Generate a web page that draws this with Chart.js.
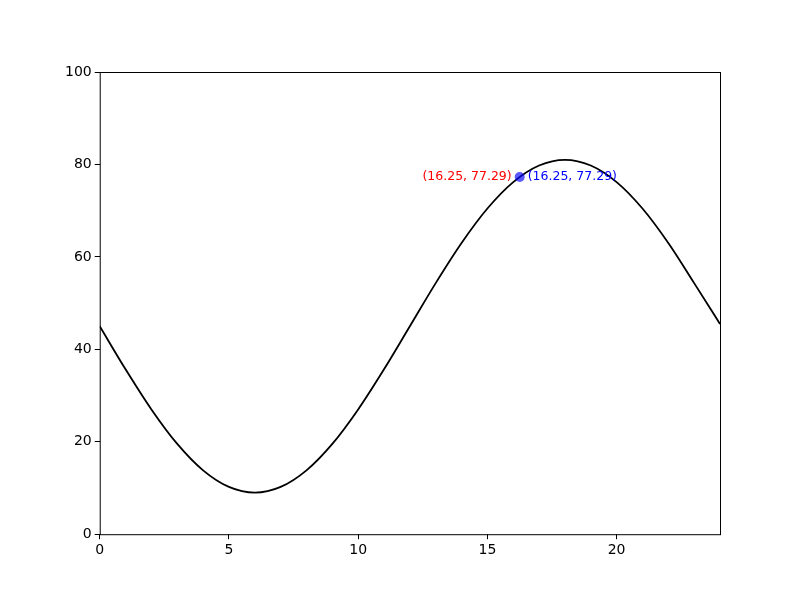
<!DOCTYPE html>
<html>
<head>
<meta charset="UTF-8" />
<title>Curve with annotated point</title>
<style>
  html, body { margin: 0; padding: 0; background: #ffffff; }
  #wrap { width: 800px; height: 600px; }
</style>
</head>
<body>
<div id="wrap"><canvas id="chart" width="800" height="600"></canvas></div>
<script src="https://cdn.jsdelivr.net/npm/chart.js"></script>
<script>
  // values
  const hours = [0, 1, 2, 3, 4, 5, 6, 7, 8, 9, 10, 11, 12, 13, 14, 15, 16, 17, 18, 19, 20, 21, 22, 23, 24];
  const values = [45, 35.68, 27, 19.54, 13.82, 10.23, 9, 10.23, 13.82, 19.54, 27, 35.68, 45,
                  54.32, 63, 70.46, 76.18, 79.77, 81, 79.77, 76.18, 70.46, 63, 54.32, 45.5];
  const markX = [16.25];
  const markY = [77.29];
  const xTicks = [0, 5, 10, 15, 20];
  const yTicks = [0, 20, 40, 60, 80, 100];

  const curve = hours.map((h, i) => ({ x: h, y: values[i] }));
  const marks = markX.map((v, i) => ({ x: v, y: markY[i] }));

  // text labels either side of the marked point
  const labelPlugin = {
    id: 'pointLabels',
    afterDatasetsDraw(chart) {
      const c = chart.ctx;
      const xs = chart.scales.x, ys = chart.scales.y;
      c.save();
      c.font = '12.5px "DejaVu Sans"';
      c.textBaseline = 'middle';
      marks.forEach(p => {
        const px = xs.getPixelForValue(p.x);
        const py = ys.getPixelForValue(p.y);
        const txt = '(' + p.x.toFixed(2) + ', ' + p.y.toFixed(2) + ')';
        c.fillStyle = 'red';
        c.textAlign = 'right';
        c.fillText(txt, px - 8, py);
        c.fillStyle = 'blue';
        c.textAlign = 'left';
        c.fillText(txt, px + 8, py);
      });
      c.restore();
    }
  };

  // frame around the plot area like the matplotlib axes
  const framePlugin = {
    id: 'frame',
    afterDraw(chart) {
      const a = chart.chartArea, c = chart.ctx;
      c.save();
      c.strokeStyle = '#000';
      c.lineWidth = 1;
      c.strokeRect(a.left + 0.5, a.top + 0.5, a.right - a.left, a.bottom - a.top);
      c.restore();
    }
  };

  new Chart(document.getElementById('chart').getContext('2d'), {
    type: 'scatter',
    data: {
      datasets: [
        {
          data: marks,
          backgroundColor: 'rgba(0, 0, 255, 0.65)',
          borderWidth: 0,
          pointRadius: 5,
          order: 0
        },
        {
          data: curve,
          showLine: true,
          borderColor: '#000',
          borderWidth: 1.8,
          pointRadius: 0,
          cubicInterpolationMode: 'monotone',
          order: 1
        }
      ]
    },
    options: {
      responsive: false,
      animation: false,
      layout: { padding: { left: 62, right: 80, top: 72, bottom: 38 } },
      plugins: { legend: { display: false }, tooltip: { enabled: false } },
      scales: {
        x: {
          type: 'linear',
          min: 0, max: 24,
          afterBuildTicks: ax => { ax.ticks = xTicks.map(v => ({ value: v })); },
          grid: { drawOnChartArea: false, color: '#000', tickLength: 5, tickWidth: 1 },
          border: { display: false },
          ticks: { color: '#000', font: { family: 'DejaVu Sans', size: 14 }, padding: 3, maxRotation: 0 }
        },
        y: {
          min: 0, max: 100,
          afterBuildTicks: ax => { ax.ticks = yTicks.map(v => ({ value: v })); },
          grid: { drawOnChartArea: false, color: '#000', tickLength: 5, tickWidth: 1 },
          border: { display: false },
          ticks: { color: '#000', font: { family: 'DejaVu Sans', size: 14 }, padding: 3 }
        }
      }
    },
    plugins: [labelPlugin, framePlugin]
  });
</script>
</body>
</html>
